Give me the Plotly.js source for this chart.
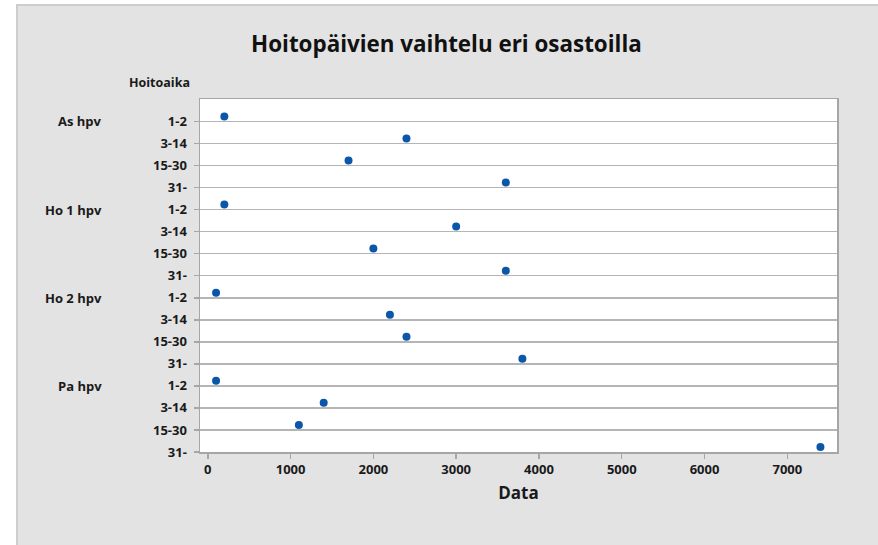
<!DOCTYPE html>
<html>
<head>
<meta charset="utf-8">
<script src="https://cdn.plot.ly/plotly-3.0.1.min.js"></script>
<style>
  html, body { margin: 0; padding: 0; background: #ffffff; }
  #frame { position: absolute; left: 16px; top: 4px; width: 860px; height: 539px;
           background: #e3e3e3; border-left: 2px solid #cdcdcd; border-top: 2px solid #cdcdcd; }
  #chart { position: absolute; left: 0; top: 0; width: 878px; height: 545px; }
</style>
</head>
<body>
<div id="frame"></div>
<div id="chart"></div>
<script>
// ---- data ----
const groups = ['As hpv', 'Ho 1 hpv', 'Ho 2 hpv', 'Pa hpv'];
const periods = ['1-2', '3-14', '15-30', '31-'];
const asHpv  = [200, 2400, 1700, 3600];
const ho1Hpv = [200, 3000, 2000, 3600];
const ho2Hpv = [100, 2200, 2400, 3800];
const paHpv  = [100, 1400, 1100, 7400];
const xTicks = [0, 1000, 2000, 3000, 4000, 5000, 6000, 7000];

// ---- build ----
const series = [asHpv, ho1Hpv, ho2Hpv, paHpv];
const xs = [], ys = [], rowVals = [], rowText = [];
const dotLift = 0.23; // dots sit slightly above their row line
series.forEach((vals, g) => {
  vals.forEach((v, p) => {
    const row = g * periods.length + p;
    xs.push(v);
    ys.push(row - dotLift);
  });
});
groups.forEach((g, gi) => periods.forEach((p, pi) => {
  rowVals.push(gi * periods.length + pi);
  rowText.push(p);
}));
const nRows = rowVals.length;

const font = { family: 'Open Sans, Noto Sans, sans-serif', color: '#1a1a1a', weight: 700 };

const L = 199.5, R = 836.7, T = 99, B = 451.7, W = 878, H = 545;
const pw = R - L, ph = B - T;
const px = (x) => (x - L) / pw;
const py = (y) => (B - y) / ph;

const annotations = groups.map((g, gi) => ({
  text: g, xref: 'paper', yref: 'y', x: px(103), y: gi * periods.length,
  xanchor: 'right', yanchor: 'middle', showarrow: false,
  font: Object.assign({}, font, { size: 13 })
}));
annotations.push({
  text: 'Hoitoaika', xref: 'paper', yref: 'paper', x: px(158.5), y: py(83),
  xanchor: 'center', yanchor: 'middle', showarrow: false,
  font: Object.assign({}, font, { size: 12.5 })
});

const trace = {
  type: 'scatter', mode: 'markers', x: xs, y: ys,
  marker: { color: '#0a56a8', size: 8 },
  hoverinfo: 'x', showlegend: false, cliponaxis: false
};

const layout = {
  width: W, height: H,
  paper_bgcolor: 'rgba(0,0,0,0)', plot_bgcolor: '#ffffff',
  margin: { l: L, r: W - R, t: T, b: H - B, pad: 0 },
  title: {
    text: 'Hoitopäivien vaihtelu eri osastoilla',
    font: Object.assign({}, font, { size: 22.4, color: '#111111' }),
    xref: 'paper', x: px(446), xanchor: 'center',
    yref: 'container', y: 1 - 44 / H, yanchor: 'middle'
  },
  xaxis: {
    range: [-94, 7600], tickvals: xTicks, ticktext: xTicks.map(String),
    showgrid: false, zeroline: false,
    showline: true, mirror: true, linecolor: '#a6a6a6', linewidth: 1.5,
    ticks: 'outside', ticklen: 5, tickcolor: '#a6a6a6', tickwidth: 1.5,
    tickfont: Object.assign({}, font, { size: 13 }),
    title: { text: 'Data', font: Object.assign({}, font, { size: 17 }), standoff: 10 }
  },
  yaxis: {
    range: [nRows - 1, -1.02], tickvals: rowVals, ticktext: rowText,
    showgrid: true, gridcolor: '#b5b5b5', gridwidth: 1.5, zeroline: false,
    showline: true, mirror: true, linecolor: '#a6a6a6', linewidth: 1.5,
    ticks: 'outside', ticklen: 5, tickcolor: '#a6a6a6', tickwidth: 1.5,
    ticklabelstandoff: 4,
    tickfont: Object.assign({}, font, { size: 13 })
  },
  annotations: annotations
};

Plotly.newPlot('chart', [trace], layout, { staticPlot: true, displayModeBar: false });
</script>
</body>
</html>
